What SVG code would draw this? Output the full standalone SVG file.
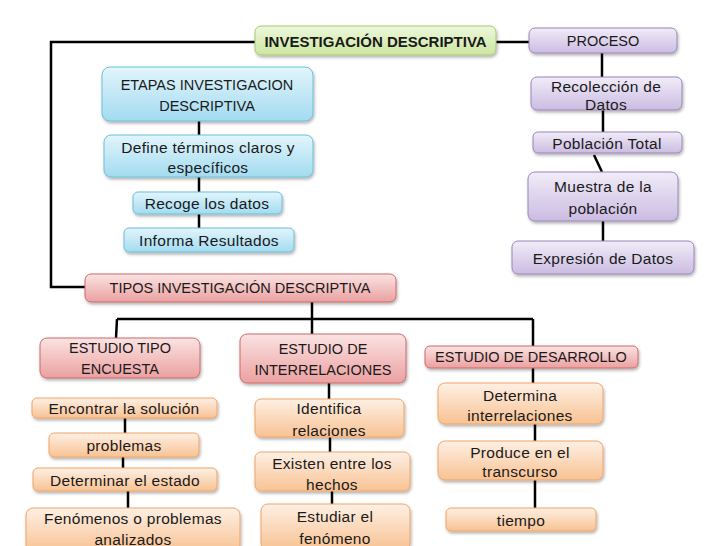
<svg xmlns="http://www.w3.org/2000/svg" width="728" height="546" viewBox="0 0 728 546">
<defs>
<linearGradient id="gGreen" x1="0" y1="0" x2="0" y2="1"><stop offset="0" stop-color="#eef8dc"/><stop offset="1" stop-color="#cbe6a0"/></linearGradient>
<linearGradient id="gBlue" x1="0" y1="0" x2="0" y2="1"><stop offset="0" stop-color="#e2f5fc"/><stop offset="1" stop-color="#a3dbf0"/></linearGradient>
<linearGradient id="gPurple" x1="0" y1="0" x2="0" y2="1"><stop offset="0" stop-color="#f1ecf8"/><stop offset="1" stop-color="#cbbce2"/></linearGradient>
<linearGradient id="gPink" x1="0" y1="0" x2="0" y2="1"><stop offset="0" stop-color="#fbe3e3"/><stop offset="1" stop-color="#eba0a0"/></linearGradient>
<linearGradient id="gOrange" x1="0" y1="0" x2="0" y2="1"><stop offset="0" stop-color="#fef0e4"/><stop offset="1" stop-color="#f8c293"/></linearGradient>
<filter id="sh" x="-10%" y="-20%" width="120%" height="150%"><feDropShadow dx="1" dy="2" stdDeviation="1.5" flood-color="#000" flood-opacity="0.3"/></filter>
</defs>
<style>
rect{filter:url(#sh);stroke-width:1}
.green{fill:url(#gGreen);stroke:#a9c872}
.blue{fill:url(#gBlue);stroke:#6cbfd8}
.purple{fill:url(#gPurple);stroke:#9a86b8}
.pink{fill:url(#gPink);stroke:#cc6b6b}
.orange{fill:url(#gOrange);stroke:#f0a466}
text{font-family:"Liberation Sans",Arial,sans-serif;font-size:15.5px;letter-spacing:0.3px;fill:#1a1a1a;text-anchor:middle;dominant-baseline:central}
.c{font-size:14.5px;letter-spacing:0}
.b{font-weight:bold;font-size:15px;letter-spacing:0}
#connectors path{fill:none;stroke:#000;stroke-width:2.5}
</style>
<rect width="728" height="546" fill="#fff" style="filter:none"/>
<g id="connectors">
<path d="M255 42 H51 V287 H85"/>
<path d="M496 42 H529"/>
<path d="M602 53 V77"/>
<path d="M603 110 V132"/>
<path d="M594 155 L602 172"/>
<path d="M603 221 V241"/>
<path d="M199 121 V135"/>
<path d="M199 177 V192"/>
<path d="M199 214 V228"/>
<path d="M312 302 V319"/>
<path d="M117 319 H533"/>
<path d="M117 319 L116 338"/>
<path d="M312 319 V334"/>
<path d="M533 319 V346"/>
<path d="M125 418 V433"/>
<path d="M123 457 V468"/>
<path d="M128 491 V508"/>
<path d="M329 383 V399"/>
<path d="M330 437 V452"/>
<path d="M332 491 V504"/>
<path d="M533 368 V383"/>
<path d="M535 424 V441"/>
<path d="M535 480 V508"/>
</g>
<g id="n-inv"><rect class="green" x="255" y="26" width="241" height="29" rx="6"/><text class="b" x="375.5" y="41">INVESTIGACIÓN DESCRIPTIVA</text></g>
<g id="n-proceso"><rect class="purple" x="529" y="28" width="148" height="25" rx="6"/><text class="c" x="603" y="41">PROCESO</text></g>
<g id="n-recoleccion"><rect class="purple" x="531" y="77" width="151" height="33" rx="6"/><text x="606" y="86">Recolección de</text><text x="606" y="104">Datos</text></g>
<g id="n-poblacion"><rect class="purple" x="533" y="132" width="149" height="21" rx="5"/><text x="607" y="143">Población Total</text></g>
<g id="n-muestra"><rect class="purple" x="528" y="172" width="150" height="49" rx="7"/><text x="603" y="186">Muestra de la</text><text x="603" y="208">población</text></g>
<g id="n-expresion"><rect class="purple" x="512" y="241" width="182" height="33" rx="6"/><text x="603" y="258">Expresión de Datos</text></g>
<g id="n-etapas"><rect class="blue" x="102" y="67" width="211" height="54" rx="8"/><text class="c" x="207" y="85">ETAPAS INVESTIGACION</text><text class="c" x="207" y="106">DESCRIPTIVA</text></g>
<g id="n-define"><rect class="blue" x="104" y="135" width="209" height="42" rx="7"/><text x="208" y="147">Define términos claros y</text><text x="208" y="167">específicos</text></g>
<g id="n-recoge"><rect class="blue" x="133" y="192" width="149" height="22" rx="5"/><text x="207" y="203">Recoge los datos</text></g>
<g id="n-informa"><rect class="blue" x="124" y="228" width="170" height="24" rx="5"/><text x="209" y="240">Informa Resultados</text></g>
<g id="n-tipos"><rect class="pink" x="85" y="274" width="311" height="28" rx="6"/><text class="c" x="240" y="288">TIPOS INVESTIGACIÓN DESCRIPTIVA</text></g>
<g id="n-encuesta"><rect class="pink" x="40" y="338" width="160" height="40" rx="7"/><text class="c" x="120" y="348">ESTUDIO TIPO</text><text class="c" x="120" y="369">ENCUESTA</text></g>
<g id="n-interrel"><rect class="pink" x="240" y="334" width="166" height="49" rx="7"/><text class="c" x="323" y="349">ESTUDIO DE</text><text class="c" x="323" y="370">INTERRELACIONES</text></g>
<g id="n-desarrollo"><rect class="pink" x="425" y="346" width="213" height="22" rx="5"/><text class="c" x="531" y="357">ESTUDIO DE DESARROLLO</text></g>
<g id="n-encontrar"><rect class="orange" x="32" y="398" width="185" height="20" rx="5"/><text x="124" y="408">Encontrar la solución</text></g>
<g id="n-problemas"><rect class="orange" x="49" y="433" width="150" height="24" rx="5"/><text x="124" y="445">problemas</text></g>
<g id="n-determinar"><rect class="orange" x="33" y="468" width="184" height="23" rx="5"/><text x="125" y="480">Determinar el estado</text></g>
<g id="n-fenomenos"><rect class="orange" x="26" y="508" width="214" height="44" rx="7"/><text x="133" y="518">Fenómenos o problemas</text><text x="133" y="539">analizados</text></g>
<g id="n-identifica"><rect class="orange" x="255" y="399" width="149" height="38" rx="6"/><text x="329" y="408">Identifica</text><text x="329" y="430">relaciones</text></g>
<g id="n-existen"><rect class="orange" x="255" y="452" width="155" height="39" rx="6"/><text x="332" y="463">Existen entre los</text><text x="332" y="484">hechos</text></g>
<g id="n-estudiar"><rect class="orange" x="261" y="504" width="149" height="46" rx="7"/><text x="335" y="516">Estudiar el</text><text x="335" y="538">fenómeno</text></g>
<g id="n-determina"><rect class="orange" x="438" y="383" width="165" height="41" rx="7"/><text x="520" y="395">Determina</text><text x="520" y="415">interrelaciones</text></g>
<g id="n-produce"><rect class="orange" x="438" y="441" width="165" height="39" rx="7"/><text x="520" y="452">Produce en el</text><text x="520" y="471">transcurso</text></g>
<g id="n-tiempo"><rect class="orange" x="446" y="508" width="150" height="23" rx="5"/><text x="521" y="520">tiempo</text></g>
</svg>
